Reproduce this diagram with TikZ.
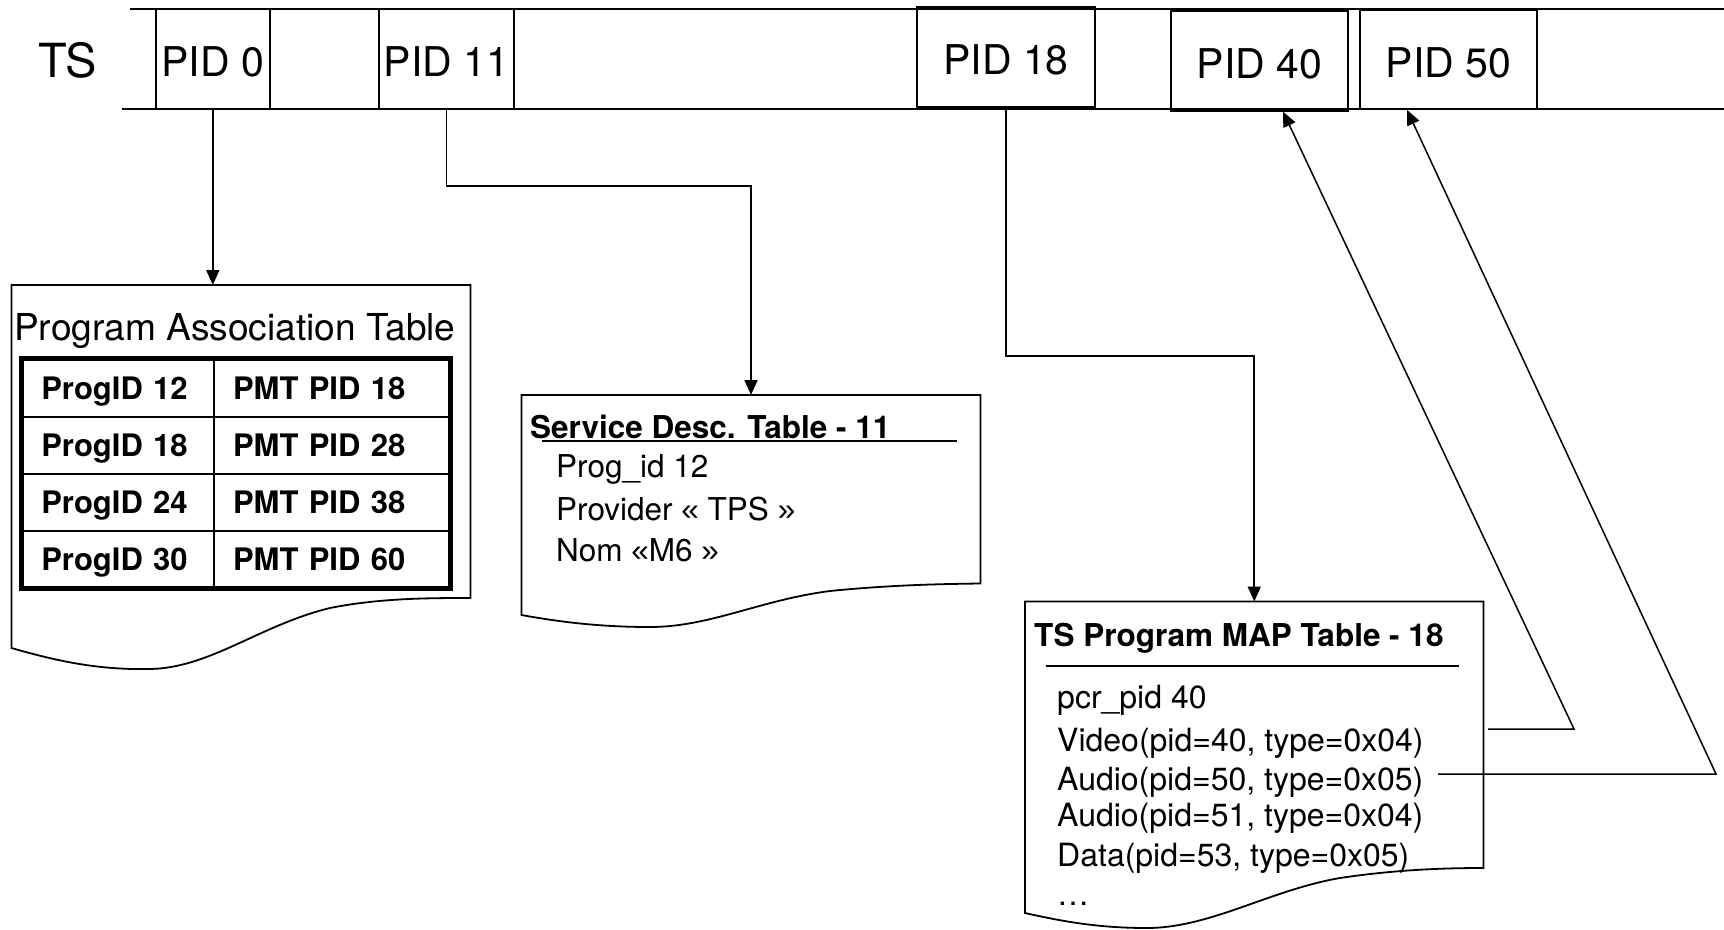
\documentclass[tikz,border=0pt]{standalone}
\usepackage{fontspec}
\setmainfont{TeX Gyre Heros}
\newfontfamily\quotefont{Liberation Sans}
\newcommand{\guilopen}{{\quotefont «}}
\newcommand{\guilclose}{{\quotefont »}}
\usetikzlibrary{arrows.meta,calc}

\begin{document}
\begin{tikzpicture}[x=1pt,y=-1pt,
  ln/.style={line width=1.8pt, draw=black},
  pidbox/.style={ln, inner sep=0pt, text height=35pt, text depth=0pt,
    font=\fontsize{41}{41}\selectfont},
  arr/.style={ln, -{Triangle[length=15pt,width=13pt]}},
  diag/.style={line width=1.5pt, draw=black, -{Triangle[length=15pt,width=13pt]}},
  docframe/.style={inner sep=0pt, outer sep=0pt},
  cell/.style={draw, line width=2pt, inner xsep=19pt, inner ysep=0pt,
    minimum height=57.1pt, text height=22pt, text depth=0pt, align=left,
    font=\fontsize{31}{31}\selectfont\bfseries},
  lcell/.style={cell, minimum width=191.7pt, text width=153.7pt},
  rcell/.style={cell, minimum width=235.3pt, text width=197.3pt},
  body/.style={anchor=base west, inner sep=0pt, font=\fontsize{31.5}{31.5}\selectfont},
  pbody/.style={body, font=\fontsize{32}{32}\selectfont},
  head/.style={anchor=base west, inner sep=0pt, font=\fontsize{31.5}{31.5}\selectfont\bfseries},
]
\useasboundingbox (0,0) rectangle (1724,929);

% ---- transport stream ----
\node[inner sep=0pt, font=\fontsize{47}{47}\selectfont] (ts) at (67.6,60.5) {TS};
\draw[ln] (130,9) -- (1724,9);
\draw[ln] (122,109) -- (1724,109);
\node[pidbox, minimum width=114pt, minimum height=100pt] (p0)  at (212.8,59)   {PID 0};
\node[pidbox, minimum width=135pt, minimum height=100pt] (p11) at (446.5,59)   {PID 11};
\node[pidbox, minimum width=178pt, minimum height=99.7pt] (p18) at (1006,57.2) {PID 18};
\node[pidbox, minimum width=177.3pt, minimum height=100pt] (p40) at (1259.4,60.7) {PID 40};
\node[pidbox, minimum width=177pt, minimum height=99pt] (p50) at (1448.5,59.5) {PID 50};

% ---- Program Association Table ----
\node[docframe, minimum width=459pt, minimum height=313pt] (pat) at (241,441.5) {};
\draw[ln] (pat.north west) -- (pat.north east) -- (pat.south east)
  .. controls (430,598) and (380,598) .. (330,608)
  .. controls (260,625) and (210,668) .. (150,669)
  .. controls (100,670) and (60,662) .. (11.5,648) -- cycle;
\node[anchor=base west, inner sep=0pt, font=\fontsize{37.1}{37.1}\selectfont]
  (pattitle) at (14,340) {Program Association Table};

\node[lcell] (c11) at (118.15,388)   {ProgID 12};
\node[rcell] (c12) at (331.65,388)   {PMT PID 18};
\node[lcell] (c21) at (118.15,445.1) {ProgID 18};
\node[rcell] (c22) at (331.65,445.1) {PMT PID 28};
\node[lcell] (c31) at (118.15,502.2) {ProgID 24};
\node[rcell] (c32) at (331.65,502.2) {PMT PID 38};
\node[lcell] (c41) at (118.15,559.3) {ProgID 30};
\node[rcell] (c42) at (331.65,559.3) {PMT PID 60};
\draw[line width=5pt] (c11.north west) rectangle (c42.south east);

% ---- Service Description Table ----
\node[docframe, minimum width=459pt, minimum height=188.5pt] (sdt) at (751,489.25) {};
\draw[ln] (sdt.north west) -- (sdt.north east) -- (sdt.south east)
  .. controls (940,584) and (890,585) .. (830,591)
  .. controls (760,600) and (710,627) .. (650,627)
  .. controls (600,627) and (560,622) .. (521.5,615) -- cycle;
\node[head] (sdttitle) at (530,438.3) {Service Desc. Table - 11};
\draw[line width=2pt] (541.7,440.7) -- (956.7,440.7);
\node[body] (sdt1) at (556,477.7) {Prog\_id 12};
\node[body] (sdt2) at (556,520)   {Provider \guilopen{} TPS \guilclose};
\node[body] (sdt3) at (556,561.7) {Nom \guilopen{}M6 \guilclose};

% ---- Program Map Table ----
\node[docframe, minimum width=458.5pt, minimum height=266.5pt] (pmt) at (1254.25,734.75) {};
\draw[ln] (pmt.north west) -- (pmt.north east) -- (pmt.south east)
  .. controls (1450,868) and (1400,869) .. (1340,878)
  .. controls (1270,890) and (1210,928) .. (1147,928)
  .. controls (1100,928) and (1065,922) .. (1025,913) -- cycle;
\node[head] (pmttitle) at (1034,646.7) {TS Program MAP Table - 18};
\draw[line width=2pt] (1045.5,666) -- (1458.5,666);
\node[pbody] (pmt1) at (1057,708)   {pcr\_pid 40};
\node[pbody] (pmt2) at (1057,751.7) {Video(pid=40, type=0x04)};
\node[pbody] (pmt3) at (1057,790.7) {Audio(pid=50, type=0x05)};
\node[pbody] (pmt4) at (1057,826.7) {Audio(pid=51, type=0x04)};
\node[pbody] (pmt5) at (1057,866.7) {Data(pid=53, type=0x05)};
\node[pbody] (pmt6) at (1057,905)   {…};

% ---- connectors ----
\draw[arr] (p0.south) -- (p0.south |- pat.north);
\draw[arr] (p11.south) -- ++(0,75.7) -| (sdt.north);
\draw[arr] (p18.south) -- ++(0,248) -| (pmt.north);

\coordinate (vstart) at (1488,729);
\coordinate (vbend)  at (1574,729);
\coordinate (astart) at (1438,774);
\coordinate (abend)  at (1716,774);
\draw[diag] (vstart) -- (vbend) -- ($(p40.south)+(23.6,0)$);
\draw[diag] (astart) -- (abend) -- ($(p50.south)+(-41.5,0)$);
\end{tikzpicture}
\end{document}
